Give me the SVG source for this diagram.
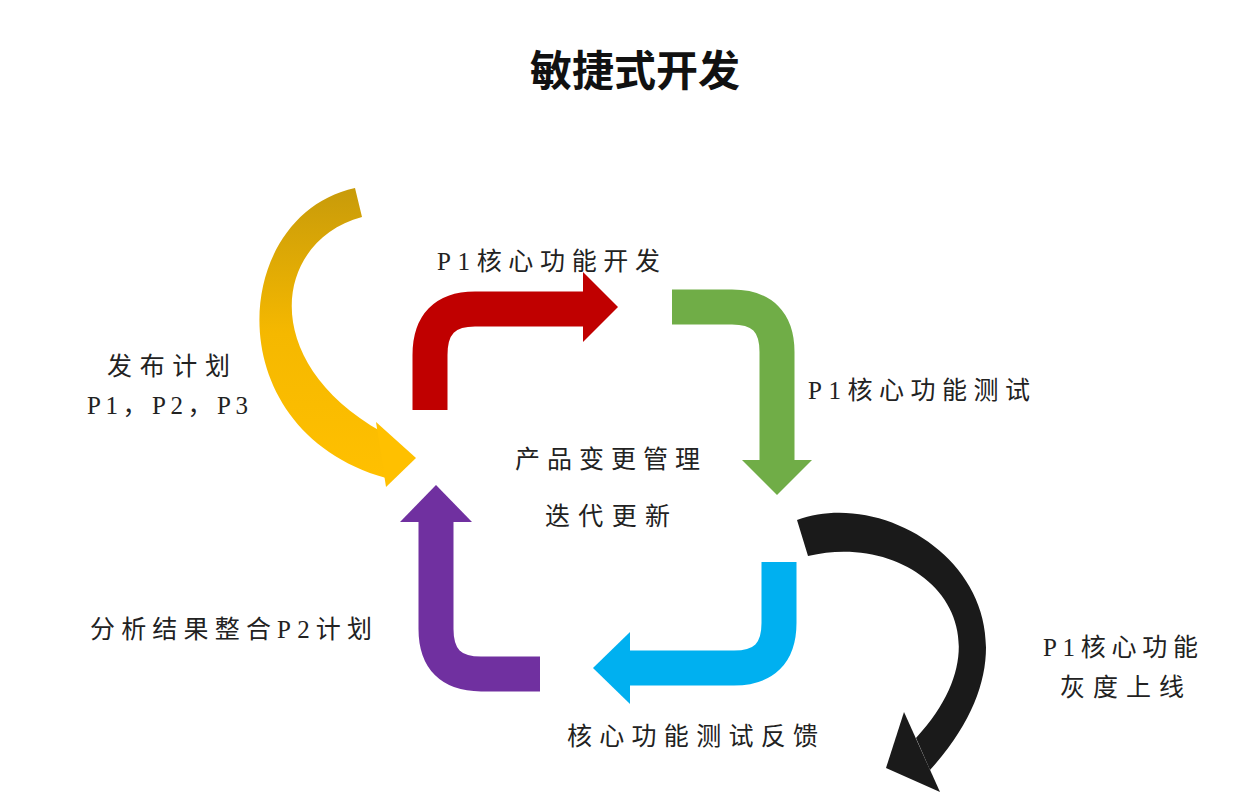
<svg xmlns="http://www.w3.org/2000/svg" width="1233" height="800" viewBox="0 0 1233 800">
<defs>
<style>
.t{font-family:"Liberation Serif","Noto Sans CJK SC",serif;font-size:25px;fill:#222}
.title{font-family:"Noto Sans CJK SC",sans-serif;font-size:42px;font-weight:bold;fill:#111}
.band{fill:none;stroke-width:35}
</style>
<linearGradient id="yg" x1="0" y1="0" x2="0" y2="1">
<stop offset="0" stop-color="#c89b0a"/><stop offset="0.5" stop-color="#f5b800"/><stop offset="1" stop-color="#ffc000"/>
</linearGradient>
</defs>
<rect width="1233" height="800" fill="#fff"/>
<text class="title" x="635" y="86" text-anchor="middle">敏捷式开发</text>
<g id="connectors">
<g id="red"><path class="band" stroke="#c00000" d="M430,410 V355 Q430,309 475,309 H585"/><polygon fill="#c00000" points="583,272 618,307 583,342"/></g>
<g id="green"><path class="band" stroke="#70ad47" d="M672,307 H732 Q777,307 777,352 V462"/><polygon fill="#70ad47" points="742,460 812,460 777,495"/></g>
<g id="blue"><path class="band" stroke="#00b0f0" d="M779,562 V623 Q779,668 734,668 H628"/><polygon fill="#00b0f0" points="630,632 630,704 593,668"/></g>
<g id="purple"><path class="band" stroke="#7030a0" d="M540,674 H481 Q436,674 436,629 V520"/><polygon fill="#7030a0" points="400,522 472,522 436,485"/></g>
<g id="yellow"><path fill="url(#yg)" d="M355,188 L362,217 C275,240 255,360 382,432 L386,478 C215,430 230,215 355,188 Z"/><polygon fill="#ffc000" points="376,422 416,458 386,487"/></g>
<g id="black"><path fill="#1a1a1a" d="M797,520 C905,480 1075,610 930,770 L916,738 C1020,625 915,530 808,556 Z"/><polygon fill="#1a1a1a" points="904,712 940,792 886,768"/></g>
</g>
<g id="labels">
<text class="t" x="437" y="270" textLength="223" lengthAdjust="spacing">P1核心功能开发</text>
<text class="t" x="808" y="399" textLength="222" lengthAdjust="spacing">P1核心功能测试</text>
<text class="t" x="515" y="468" textLength="185" lengthAdjust="spacing">产品变更管理</text>
<text class="t" x="545" y="525" textLength="125" lengthAdjust="spacing">迭代更新</text>
<text class="t" x="107" y="375" textLength="123" lengthAdjust="spacing">发布计划</text>
<text class="t" x="87" y="414" textLength="161" lengthAdjust="spacing">P1，P2，P3</text>
<text class="t" x="90" y="638" textLength="282" lengthAdjust="spacing">分析结果整合P2计划</text>
<text class="t" x="567" y="745" textLength="251" lengthAdjust="spacing">核心功能测试反馈</text>
<text class="t" x="1043" y="656" textLength="155" lengthAdjust="spacing">P1核心功能</text>
<text class="t" x="1060" y="696" textLength="124" lengthAdjust="spacing">灰度上线</text>
</g>
</svg>
